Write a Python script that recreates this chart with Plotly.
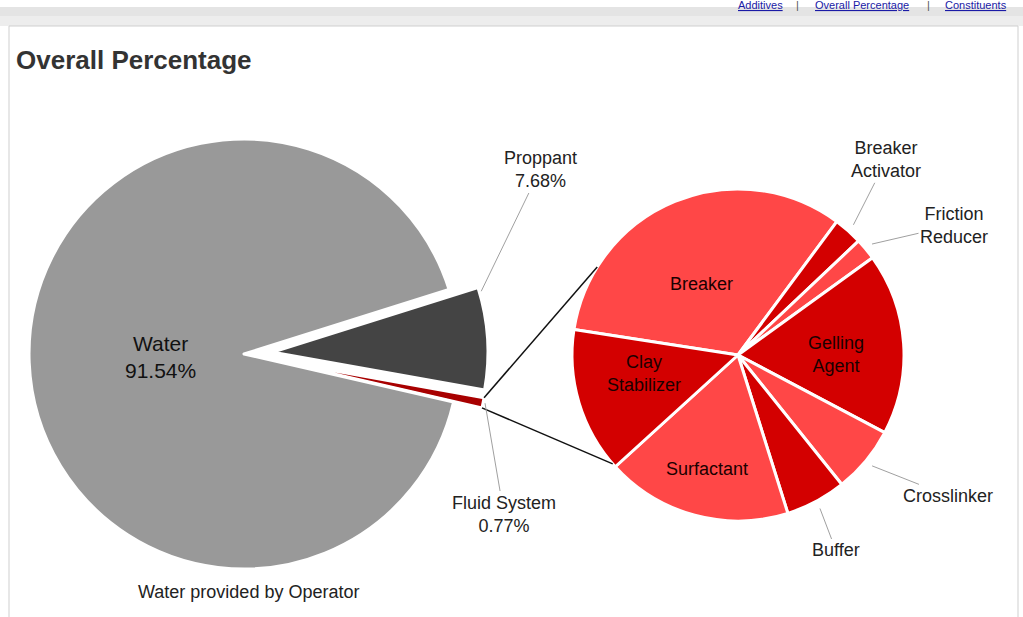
import math
import plotly.graph_objects as go

W, H = 1023, 617

# ---------------- data ----------------
overall_labels = ["Proppant", "Fluid System", "Water"]
overall_values = [7.68, 0.77, 91.54]
overall_text = ["Proppant<br>7.68%", "Fluid System<br>0.77%", "Water<br>91.54%"]

fluid_labels = ["Breaker", "Breaker Activator", "Friction Reducer", "Gelling Agent",
                "Crosslinker", "Buffer", "Surfactant", "Clay Stabilizer"]
fluid_values = [32.7, 2.8, 2.1, 17.7, 6.5, 5.9, 18.1, 14.2]
fluid_text = ["Breaker", "Breaker<br>Activator", "Friction<br>Reducer", "Gelling<br>Agent",
              "Crosslinker", "Buffer", "Surfactant", "Clay<br>Stabilizer"]

nav_links = ["Additives", "Overall Percentage", "Constituents"]
page_title = "Overall Percentage"
water_note = "Water provided by Operator"

# ---------------- styles ----------------
FONT = "Liberation Sans, Arial, Helvetica, sans-serif"
overall_colors = ["#444444", "#a80000", "#999999"]
fluid_colors = ["#ff4747", "#d30000", "#ff4747", "#d30000",
                "#ff4747", "#d30000", "#ff4747", "#d30000"]
overall_pull = [0.135, 0.135, 0.0]

# geometry (pixels)
L_CX, L_CY, L_HALF = 244, 354, 244
R_CX, R_CY, R_R = 738, 355, 166
L_START = 17.5      # math angle where first slice starts
R_START = 171.2
LABEL_SIZE = 18


def px(x, y):
    return x / W, 1 - y / H


def slice_angles(values, start):
    tot = float(sum(values))
    out, a = [], start
    for v in values:
        span = 360.0 * v / tot
        out.append((a, a - span))
        a -= span
    return out


def polar(cx, cy, r, ang):
    t = math.radians(ang)
    return cx + r * math.cos(t), cy - r * math.sin(t)


# left pie geometry as computed by plotly
L_R = L_HALF / (1 + max(overall_pull))
l_dom_x = [(L_CX - L_HALF) / W, (L_CX + L_HALF) / W]
l_dom_y = [1 - (L_CY + 258) / H, 1 - (L_CY - 258) / H]
r_dom_x = [(R_CX - R_R) / W, (R_CX + R_R) / W]
r_dom_y = [1 - (R_CY + R_R) / H, 1 - (R_CY - R_R) / H]

fig = go.Figure()
fig.add_trace(go.Pie(
    labels=overall_labels, values=overall_values, sort=False, direction="clockwise",
    rotation=90 - L_START, pull=overall_pull, textinfo="none", hoverinfo="label+percent",
    marker=dict(colors=overall_colors, line=dict(color="white", width=3)),
    domain=dict(x=l_dom_x, y=l_dom_y), showlegend=False,
))
fig.add_trace(go.Pie(
    labels=fluid_labels, values=fluid_values, sort=False, direction="clockwise",
    rotation=90 - R_START, textinfo="none", hoverinfo="label+percent",
    marker=dict(colors=fluid_colors, line=dict(color="white", width=3)),
    domain=dict(x=r_dom_x, y=r_dom_y), showlegend=False,
))

annotations = []
shapes = []


def text_ann(text, x, y, size, color="#222222", **kw):
    d = dict(text=text, x=px(x, 0)[0], y=px(0, y)[1], xref="paper", yref="paper",
             showarrow=False, xanchor="center", yanchor="middle",
             font=dict(family=FONT, size=size, color=color))
    d.update(kw)
    return d


def leader_ann(text, x, y, ax, ay, size, color="#222222"):
    return dict(text=text, x=px(x, 0)[0], y=px(0, y)[1], xref="paper", yref="paper",
                showarrow=True, arrowhead=0, arrowwidth=1, arrowcolor="#a0a0a0",
                ax=ax, ay=ay, standoff=0, xanchor="center", yanchor="middle",
                font=dict(family=FONT, size=size, color=color))


# page frame
shapes.append(dict(type="rect", xref="paper", yref="paper", x0=0, x1=1, y0=px(0, 26)[1], y1=px(0, 7)[1],
                   fillcolor="#e4e4e4", line=dict(width=0), layer="below"))
shapes.append(dict(type="rect", xref="paper", yref="paper", x0=0, x1=1, y0=px(0, 26)[1], y1=px(0, 16)[1],
                   fillcolor="#ededed", line=dict(width=0), layer="below"))
shapes.append(dict(type="rect", xref="paper", yref="paper", x0=px(9, 0)[0], x1=px(1018, 0)[0],
                   y0=-0.05, y1=px(0, 26)[1], fillcolor="white",
                   line=dict(color="#cfcfcf", width=1), layer="below"))

# nav links (at the very top edge)
nav_x = [760, 862, 976]
for name, x in zip(nav_links, nav_x):
    annotations.append(text_ann("<u>" + name + "</u>", x, 5, 11, color="#1a1aa6"))
for x in [797, 928]:
    annotations.append(text_ann("|", x, 5, 11, color="#555555"))

# title
annotations.append(text_ann("<b>" + page_title + "</b>", 14, 60, 26, color="#333333", xanchor="left"))

# left pie labels
l_angs = slice_angles(overall_values, L_START)
wa0, wa1 = l_angs[2]
wmid = (wa0 + wa1) / 2
wx, wy = polar(L_CX, L_CY, L_R * 0.39, wmid)
annotations.append(text_ann(overall_text[2], wx, wy, 21, color="#111111"))


def pulled_center(i):
    a0, a1 = l_angs[i]
    mid = (a0 + a1) / 2
    return polar(L_CX, L_CY, L_R * overall_pull[i], mid)


# proppant leader
pcx, pcy = pulled_center(0)
ppx, ppy = polar(pcx, pcy, L_R + 2, l_angs[0][0] - 1.2)
annotations.append(leader_ann(overall_text[0], ppx, ppy, 540 - ppx, 170 - ppy, LABEL_SIZE))
# fluid system leader + connector lines
fcx, fcy = pulled_center(1)
fa0, fa1 = l_angs[1]
fpx, fpy = polar(fcx, fcy, L_R + 2, (fa0 + fa1) / 2)
annotations.append(leader_ann(overall_text[1], fpx, fpy, 504 - fpx, 514 - fpy, LABEL_SIZE))

c1 = polar(fcx, fcy, L_R, fa0)
c2 = polar(fcx, fcy, L_R, fa1)
t1 = polar(R_CX, R_CY, R_R, 148)
t2 = polar(R_CX, R_CY, R_R, 221)
for (a, b) in [(c1, t1), (c2, t2)]:
    shapes.append(dict(type="line", xref="paper", yref="paper",
                       x0=px(*a)[0], y0=px(*a)[1], x1=px(*b)[0], y1=px(*b)[1],
                       line=dict(color="#111111", width=1.5)))

# water note
annotations.append(text_ann(water_note, 248, 592, LABEL_SIZE))

# right pie labels
r_angs = slice_angles(fluid_values, R_START)
inside_style = {0: (0.48, 5.3), 3: (0.59, -3.9), 6: (0.71, 0.0), 7: (0.58, -5.4)}
outside_offset = {1: (33, -65), 2: (82, -19), 4: (76, 30), 5: (16, 42)}
for i, (a0, a1) in enumerate(r_angs):
    mid = (a0 + a1) / 2
    if i in inside_style:
        frac, da = inside_style[i]
        x, y = polar(R_CX, R_CY, R_R * frac, mid + da)
        annotations.append(text_ann(fluid_text[i], x, y, LABEL_SIZE, color="#1a0000"))
    else:
        x, y = polar(R_CX, R_CY, R_R + 8, mid)
        ox, oy = outside_offset[i]
        annotations.append(leader_ann(fluid_text[i], x, y, ox, oy, LABEL_SIZE))

fig.update_layout(
    width=W, height=H, margin=dict(l=0, r=0, t=0, b=0),
    paper_bgcolor="white", plot_bgcolor="white",
    annotations=annotations, shapes=shapes, showlegend=False,
)

fig.write_html("out.html", config={"displayModeBar": False},
               post_script="document.body.style.margin='0';document.body.style.overflow='hidden';")
